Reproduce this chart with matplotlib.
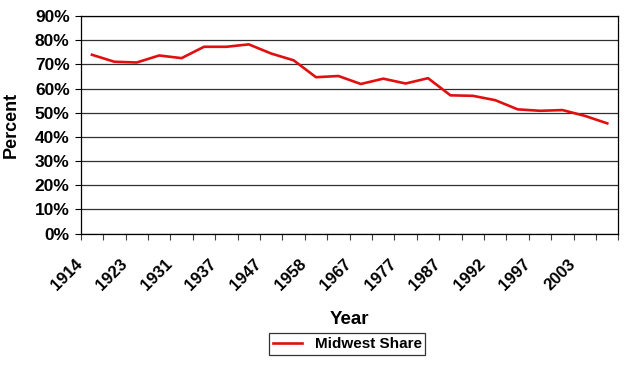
import matplotlib
matplotlib.use("Agg")
import matplotlib.pyplot as plt
from matplotlib.ticker import FuncFormatter
import numpy as np

plt.rcParams["font.family"] = ["Liberation Sans", "DejaVu Sans"]

# 24 categories, every other one labelled on the axis
tick_labels = ["1914", "1923", "1931", "1937", "1947", "1958",
               "1967", "1977", "1987", "1992", "1997", "2003"]
share = [74.0, 71.1, 70.8, 73.7, 72.6, 77.3, 77.3, 78.3, 74.5, 71.7, 64.7, 65.2,
         61.9, 64.1, 62.1, 64.3, 57.2, 57.0, 55.2, 51.4, 50.8, 51.1, 48.7, 45.6]

fig = plt.figure(figsize=(6.26, 3.66), dpi=100)
ax = fig.add_axes([0.129, 0.362, 0.859, 0.594])

x = np.arange(len(share))
ax.plot(x, share, color="#e01010", lw=1.9, label="Midwest Share")

ax.set_ylim(0, 90)
ax.set_yticks(np.arange(0, 91, 10))
ax.yaxis.set_major_formatter(FuncFormatter(lambda v, p: f"{v:.0f}%"))
ax.grid(axis="y", color="#303030", lw=0.9)
ax.set_axisbelow(True)

# ticks between categories, labels on every other category
# (label anchors nudged left so the rotated text ends just before the point)
ax.set_xticks(np.arange(-0.5, len(share), 1.0))
ax.set_xticklabels([])
ax.set_xticks(x[::2] - 0.3, minor=True)
ax.set_xticklabels(tick_labels, minor=True, rotation=45, ha="right", va="bottom",
                   rotation_mode="anchor", fontsize=12, fontweight="bold")
ax.set_xlim(-0.5, len(share) - 0.5)
ax.tick_params(axis="x", which="minor", length=0, pad=24)
ax.tick_params(axis="x", which="major", length=4, color="#404040")
ax.tick_params(axis="y", length=4, labelsize=12.5, pad=4)
for t in ax.get_yticklabels():
    t.set_fontweight("bold")

for s in ax.spines.values():
    s.set_color("black")
    s.set_linewidth(0.9)

ax.set_xlabel("Year", fontsize=13.5, fontweight="bold")
ax.xaxis.set_label_coords(0.5, -0.355)
ax.set_ylabel("Percent", fontsize=13, fontweight="bold", labelpad=11)

leg = fig.legend(loc="center", bbox_to_anchor=(0.555, 0.06), frameon=True,
                 fancybox=False, edgecolor="black", handlelength=1.9,
                 prop={"weight": "bold", "size": 11}, borderpad=0.25)
leg.get_frame().set_linewidth(0.9)

fig.savefig("out.png", dpi=100)
